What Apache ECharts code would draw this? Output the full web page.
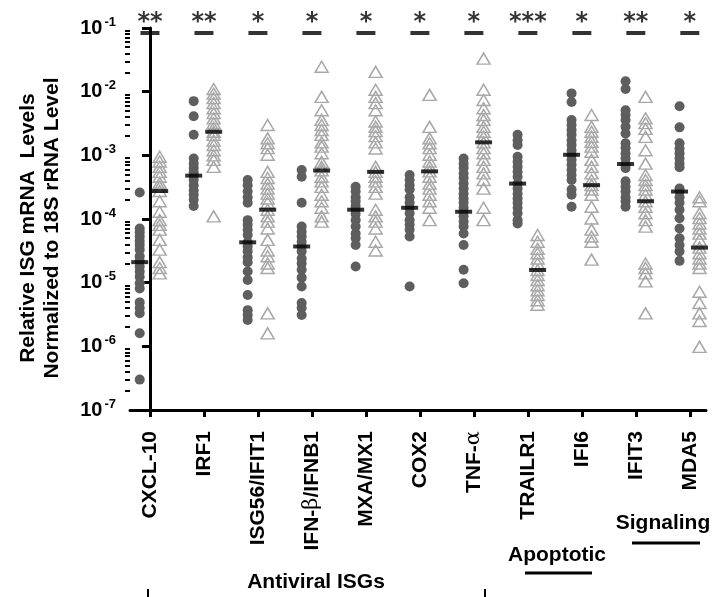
<!DOCTYPE html>
<html>
<head>
<meta charset="utf-8">
<script src="https://cdn.jsdelivr.net/npm/echarts@6/dist/echarts.min.js"></script>
<style>html,body{margin:0;padding:0;background:#fff}#chart{width:713px;height:597px}</style>
</head>
<body>
<div id="chart"></div>
<script>
var myChart = echarts.init(document.getElementById('chart'));
var fontsty = 'Liberation Sans';

// gene names (rich tags for greek letters) and significance marks
var genes = ['CXCL-10', 'IRF1', 'ISG56/IFIT1', 'IFN-{g|β}/IFNB1', 'MXA/MX1', 'COX2', 'TNF-{g|α}', 'TRAILR1', 'IFI6', 'IFIT3', 'MDA5'];
var stars = ['**', '**', '*', '*', '*', '*', '*', '***', '*', '**', '*'];

// circles (left group) per gene
var cxcl10_c = [2.6e-4, 7.1e-5, 6.2e-5, 5.3e-5, 4.5e-5, 3.9e-5, 3.3e-5, 2.6e-5, 2.2e-5, 1.8e-5, 1.5e-5, 1.24e-5, 9.8e-6, 8.1e-6, 4.9e-6, 4.0e-6, 3.3e-6, 1.6e-6, 3.0e-7];
var irf1_c = [7.1e-3, 4.1e-3, 2.1e-3, 8.9e-4, 7.4e-4, 6.3e-4, 5.4e-4, 4.8e-4, 4.1e-4, 3.4e-4, 2.8e-4, 2.4e-4, 2.0e-4, 1.6e-4];
var isg56_c = [4.1e-4, 3.4e-4, 2.7e-4, 2.2e-4, 1.8e-4, 9.6e-5, 8.1e-5, 6.8e-5, 5.6e-5, 4.3e-5, 3.7e-5, 3.1e-5, 2.5e-5, 2.1e-5, 1.5e-5, 1.1e-5, 6.4e-6, 3.7e-6, 3.1e-6, 2.6e-6];
var ifnb_c = [5.9e-4, 4.6e-4, 1.8e-4, 7.6e-5, 6.3e-5, 5.3e-5, 4.4e-5, 3.7e-5, 3.1e-5, 2.4e-5, 2.0e-5, 1.6e-5, 1.2e-5, 8.7e-6, 4.8e-6, 4.0e-6, 3.1e-6];
var mxa_c = [3.2e-4, 2.7e-4, 2.2e-4, 1.9e-4, 1.6e-4, 1.4e-4, 1.2e-4, 9.6e-5, 7.6e-5, 5.9e-5, 5.0e-5, 3.9e-5, 1.8e-5];
var cox2_c = [4.9e-4, 4.1e-4, 3.4e-4, 2.9e-4, 2.2e-4, 1.8e-4, 1.5e-4, 1.23e-4, 9.6e-5, 8.1e-5, 6.8e-5, 5.3e-5, 8.7e-6];
var tnf_c = [8.9e-4, 7.4e-4, 6.3e-4, 5.2e-4, 4.4e-4, 3.6e-4, 3.0e-4, 2.5e-4, 2.1e-4, 1.8e-4, 1.5e-4, 1.3e-4, 1.1e-4, 9.1e-5, 7.6e-5, 5.9e-5, 3.9e-5, 1.6e-5, 9.8e-6];
var trailr1_c = [2.1e-3, 1.73e-3, 1.45e-3, 9.5e-4, 7.9e-4, 6.6e-4, 5.5e-4, 4.6e-4, 3.6e-4, 3.0e-4, 2.5e-4, 2.1e-4, 1.8e-4, 1.5e-4, 1.23e-4, 9.6e-5, 8.5e-5];
var ifi6_c = [9.4e-3, 6.9e-3, 3.6e-3, 3.0e-3, 2.5e-3, 2.1e-3, 1.73e-3, 1.45e-3, 1.2e-3, 1.02e-3, 8.5e-4, 7.1e-4, 5.9e-4, 4.9e-4, 4.1e-4, 2.9e-4, 2.4e-4, 1.56e-4];
var ifit3_c = [1.46e-2, 1.1e-2, 5.1e-3, 4.3e-3, 3.6e-3, 2.8e-3, 2.2e-3, 1.55e-3, 1.3e-3, 1.08e-3, 8.9e-4, 7.3e-4, 6.3e-4, 3.9e-4, 3.2e-4, 2.7e-4, 2.2e-4, 1.9e-4, 1.56e-4];
var mda5_c = [5.9e-3, 2.75e-3, 1.55e-3, 1.28e-3, 1.08e-3, 8.9e-4, 7.4e-4, 6.5e-4, 3.0e-4, 2.7e-4, 2.2e-4, 1.8e-4, 1.4e-4, 1.03e-4, 7.1e-5, 5.0e-5, 3.9e-5, 3.1e-5, 2.2e-5];

// triangles (right group) per gene
var cxcl10_t = [9.5e-4, 8.0e-4, 6.6e-4, 5.5e-4, 4.6e-4, 3.7e-4, 3.2e-4, 2.75e-4, 1.9e-4, 1.3e-4, 9.6e-5, 8.1e-5, 6.8e-5, 4.7e-5, 3.3e-5, 2.1e-5, 1.7e-5, 1.4e-5];
var irf1_t = [1.1e-2, 9.3e-3, 7.9e-3, 6.6e-3, 5.5e-3, 4.6e-3, 3.8e-3, 3.2e-3, 2.7e-3, 2.35e-3, 2.1e-3, 1.7e-3, 1.45e-3, 1.2e-3, 1.0e-3, 8.5e-4, 6.6e-4, 1.1e-4];
var isg56_t = [3.0e-3, 1.85e-3, 1.55e-3, 1.3e-3, 1.02e-3, 5.5e-4, 4.4e-4, 3.6e-4, 3.0e-4, 2.5e-4, 2.1e-4, 1.8e-4, 1.4e-4, 1.1e-4, 9.1e-5, 7.1e-5, 4.7e-5, 3.2e-5, 2.6e-5, 2.0e-5, 1.7e-5, 3.3e-6, 1.6e-6];
var ifnb_t = [2.46e-2, 8.3e-3, 5.1e-3, 3.6e-3, 3.0e-3, 2.5e-3, 2.1e-3, 1.6e-3, 1.37e-3, 1.08e-3, 7.9e-4, 6.6e-4, 5.8e-4, 4.6e-4, 3.9e-4, 3.2e-4, 2.4e-4, 1.9e-4, 1.5e-4, 1.1e-4, 9.1e-5];
var mxa_t = [2.05e-2, 1.07e-2, 8.3e-3, 6.6e-3, 5.1e-3, 3.4e-3, 2.8e-3, 2.4e-3, 2.0e-3, 1.6e-3, 1.28e-3, 6.6e-4, 5.5e-4, 4.6e-4, 3.9e-4, 3.2e-4, 2.5e-4, 1.4e-4, 1.1e-4, 9.1e-5, 7.1e-5, 4.4e-5, 3.2e-5];
var cox2_t = [8.9e-3, 2.8e-3, 1.85e-3, 1.55e-3, 1.3e-3, 1.02e-3, 8.0e-4, 6.6e-4, 5.6e-4, 4.6e-4, 3.6e-4, 3.0e-4, 2.4e-4, 1.9e-4, 1.5e-4, 9.6e-5];
var tnf_t = [3.3e-2, 1.07e-2, 7.4e-3, 5.5e-3, 4.3e-3, 3.6e-3, 2.8e-3, 2.35e-3, 1.95e-3, 1.6e-3, 1.3e-3, 1.08e-3, 8.5e-4, 6.6e-4, 5.2e-4, 4.1e-4, 3.0e-4, 1.5e-4, 9.6e-5];
var trailr1_t = [5.6e-5, 4.4e-5, 3.4e-5, 2.9e-5, 2.4e-5, 2.0e-5, 1.58e-5, 1.32e-5, 1.1e-5, 9.1e-6, 7.6e-6, 6.4e-6, 5.3e-6, 4.5e-6];
var ifi6_t = [4.3e-3, 2.8e-3, 2.35e-3, 1.95e-3, 1.63e-3, 1.37e-3, 1.14e-3, 8.5e-4, 6.6e-4, 5.2e-4, 4.1e-4, 3.4e-4, 2.9e-4, 2.4e-4, 1.56e-4, 1.02e-4, 6.8e-5, 5.3e-5, 4.4e-5, 2.3e-5];
var ifit3_t = [8.3e-3, 3.8e-3, 3.2e-3, 2.6e-3, 1.95e-3, 1.2e-3, 7.4e-4, 4.9e-4, 4.1e-4, 3.4e-4, 2.9e-4, 2.4e-4, 1.9e-4, 1.56e-4, 1.23e-4, 9.6e-5, 7.6e-5, 2.0e-5, 1.7e-5, 1.4e-5, 1.05e-5, 3.3e-6];
var mda5_t = [2.2e-4, 1.9e-4, 1.23e-4, 1.03e-4, 8.5e-5, 7.1e-5, 5.9e-5, 4.7e-5, 3.55e-5, 2.9e-5, 2.4e-5, 2.0e-5, 1.7e-5, 7.2e-6, 4.8e-6, 3.3e-6, 2.5e-6, 9.8e-7];

// medians
var medians_c = [2.1e-5, 4.8e-4, 4.3e-5, 3.7e-5, 1.4e-4, 1.5e-4, 1.3e-4, 3.6e-4, 1.02e-3, 7.3e-4, 2.7e-4];
var medians_t = [2.75e-4, 2.35e-3, 1.4e-4, 5.8e-4, 5.5e-4, 5.6e-4, 1.6e-3, 1.58e-5, 3.4e-4, 1.9e-4, 3.55e-5];

var groups_c = [cxcl10_c, irf1_c, isg56_c, ifnb_c, mxa_c, cox2_c, tnf_c, trailr1_c, ifi6_c, ifit3_c, mda5_c];
var groups_t = [cxcl10_t, irf1_t, isg56_t, ifnb_t, mxa_t, cox2_t, tnf_t, trailr1_t, ifi6_t, ifit3_t, mda5_t];

var offC = -0.19, offT = 0.18;
var catIdx = genes.map(function (g, i) { return i; });

var dataC = [], dataT = [], medC = [], medT = [], sig = [];
groups_c.forEach(function (arr, i) {
  arr.forEach(function (v) { dataC.push([i + offC, v]); });
  medC.push([i + offC, medians_c[i]]);
});
groups_t.forEach(function (arr, i) {
  arr.forEach(function (v) { dataT.push([i + offT, v]); });
  medT.push([i + offT, medians_t[i]]);
});
stars.forEach(function (s, i) { sig.push({ value: [i, 0.0835], label: { formatter: s } }); });

// minor tick positions for the log axis (in log10 units)
var minorTicks = [];
for (var n = -7; n < -1; n++) {
  for (var k = 2; k <= 9; k++) minorTicks.push(n + Math.log10(k));
}

option = {
  animation: false,
  grid: { left: 130, right: 7, top: 28, bottom: 187 },
  xAxis: {
    type: 'value',
    min: -0.37,
    max: 10.3,
    splitLine: { show: false },
    axisLine: { lineStyle: { color: '#000', width: 3 } },
    axisTick: { customValues: catIdx, length: 7, lineStyle: { color: '#000', width: 3 } },
    axisLabel: {
      customValues: catIdx,
      rotate: 90,
      margin: 21,
      color: '#000',
      fontFamily: fontsty,
      fontWeight: 'bold',
      fontSize: 21,
      formatter: function (v) { return genes[Math.round(v)]; },
      rich: {
        g: { fontFamily: 'DejaVu Serif', fontWeight: 'normal', fontSize: 21, color: '#000' }
      }
    }
  },
  yAxis: [
    {
      type: 'log',
      logBase: 10,
      min: 1e-7,
      max: 1e-1,
      splitNumber: 6,
      splitLine: { show: false },
      axisLine: { show: true, lineStyle: { color: '#000', width: 3 } },
      axisTick: { show: true, length: 8, lineStyle: { color: '#000', width: 3 } },
      axisLabel: {
        margin: 14,
        color: '#000',
        formatter: function (v) {
          return '{b|10}{s|' + Math.round(Math.log10(v)) + '}';
        },
        rich: {
          b: { fontFamily: fontsty, fontWeight: 'bold', fontSize: 20, color: '#000' },
          s: { fontFamily: fontsty, fontWeight: 'bold', fontSize: 13, color: '#000', padding: [0, 0, 12, 2] }
        }
      }
    },
    {
      type: 'value',
      position: 'left',
      min: -7,
      max: -1,
      splitLine: { show: false },
      axisLine: { show: false },
      axisLabel: { show: false },
      axisTick: { show: true, customValues: minorTicks, length: 5, lineStyle: { color: '#000', width: 2 } }
    }
  ],
  graphic: [
    {
      type: 'text', x: 40, y: 228, rotation: Math.PI / 2,
      style: {
        text: 'Relative ISG mRNA  Levels\nNormalized to 18S rRNA Level',
        fontFamily: fontsty, fontWeight: 'bold', fontSize: 21, lineHeight: 24,
        align: 'center', verticalAlign: 'middle', fill: '#000'
      }
    },
    {
      type: 'text', x: 316, y: 582,
      style: { text: 'Antiviral ISGs', fontFamily: fontsty, fontWeight: 'bold', fontSize: 21, align: 'center', verticalAlign: 'middle', fill: '#000' }
    },
    { type: 'line', shape: { x1: 148, y1: 589, x2: 148, y2: 597 }, style: { stroke: '#000', lineWidth: 2 } },
    { type: 'line', shape: { x1: 485, y1: 589, x2: 485, y2: 597 }, style: { stroke: '#000', lineWidth: 2 } },
    {
      type: 'text', x: 557, y: 555,
      style: { text: 'Apoptotic', fontFamily: fontsty, fontWeight: 'bold', fontSize: 21, align: 'center', verticalAlign: 'middle', fill: '#000' }
    },
    { type: 'line', shape: { x1: 525, y1: 573, x2: 592, y2: 573 }, style: { stroke: '#000', lineWidth: 3 } },
    {
      type: 'text', x: 663, y: 523,
      style: { text: 'Signaling', fontFamily: fontsty, fontWeight: 'bold', fontSize: 21, align: 'center', verticalAlign: 'middle', fill: '#000' }
    },
    { type: 'line', shape: { x1: 632, y1: 543, x2: 700, y2: 543 }, style: { stroke: '#000', lineWidth: 3 } }
  ],
  series: [
    {
      name: 'circles', type: 'scatter', symbol: 'circle', symbolSize: 10,
      itemStyle: { color: '#5e5e5e', opacity: 1 },
      data: dataC, z: 2
    },
    {
      name: 'triangles', type: 'scatter', symbol: 'triangle', symbolSize: [13, 11],
      itemStyle: { color: 'rgba(0,0,0,0)', borderColor: '#a8a8a8', borderWidth: 1.5, opacity: 1 },
      data: dataT, z: 2
    },
    {
      name: 'median', type: 'scatter', symbol: 'rect', symbolSize: [17, 4],
      itemStyle: { color: '#000' }, data: medC.concat(medT), z: 5
    },
    {
      name: 'sig', type: 'scatter', symbol: 'rect', symbolSize: [19, 4],
      itemStyle: { color: '#000' }, data: sig, z: 5,
      label: {
        show: true, position: 'top', distance: -4,
        fontFamily: 'DejaVu Sans', fontWeight: 'bold', fontSize: 24, color: '#000'
      }
    }
  ]
};
myChart.setOption(option);
</script>
</body>
</html>
